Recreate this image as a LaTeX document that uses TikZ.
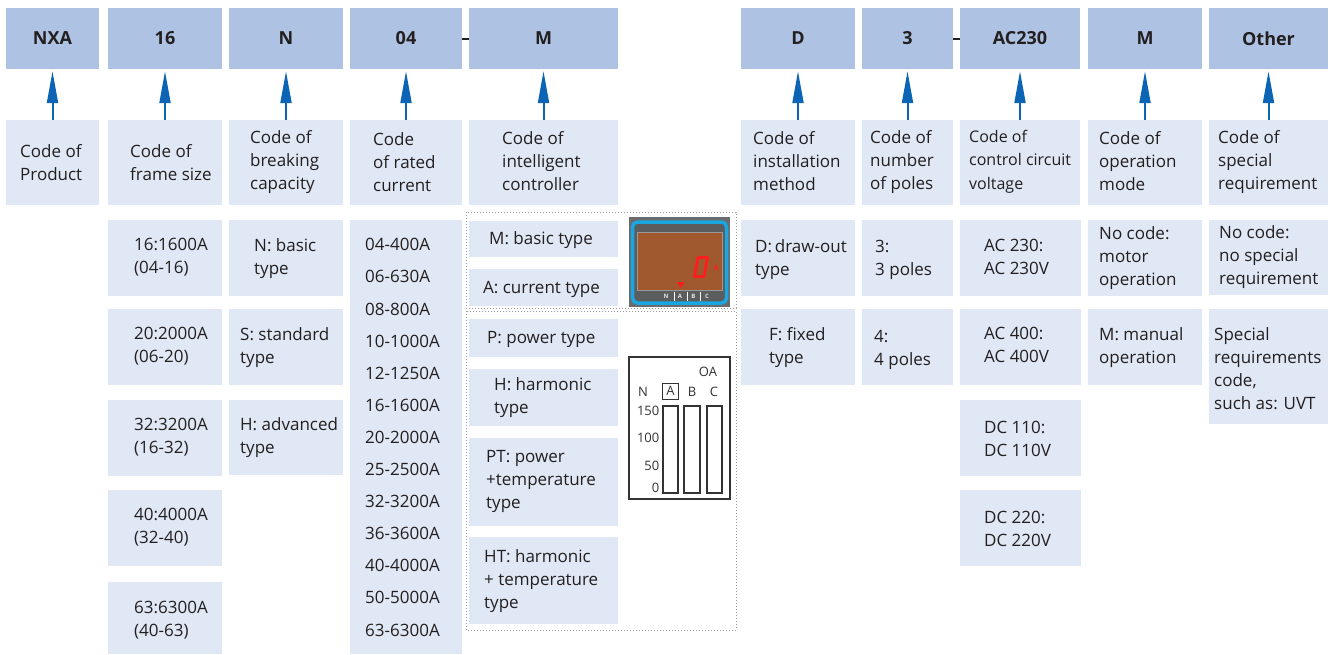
\documentclass[tikz,border=0pt]{standalone}
\usepackage{fontspec}
\setmainfont{Open Sans}
\usetikzlibrary{fit,arrows.meta}
\definecolor{hdr}{HTML}{AEC3E3}
\definecolor{lbl}{HTML}{E0E8F5}
\definecolor{arrc}{HTML}{0B64B4}
\definecolor{txtc}{HTML}{231F20}
\definecolor{dotc}{HTML}{9A9A9A}
\definecolor{frameg}{HTML}{6A6B6D}
\definecolor{panelg}{HTML}{5B5C5E}
\definecolor{lcdblue}{HTML}{1AA6E0}
\definecolor{lcdbrown}{HTML}{A0582F}
\definecolor{lcdred}{HTML}{FF1E1E}
\definecolor{chartc}{HTML}{333333}
\newcommand{\hcell}[6]{\node[hbox, fit={(#2,#3)(#4,#5)}] (#1) {};
  \node[htxt] (#1t) at (#1.center) {#6};}
\newcommand{\lcell}[5]{\node[lbox, fit={(#2,#3)(#4,#5)}] (#1) {};}
% #3 = x, #3 = y of the LAST line's visual centre
\newcommand{\tx}[4]{\node[txt] (#1) at (#2,#3) {#4};}
\begin{document}
\begin{tikzpicture}[x=1pt,y=-1pt,
  hbox/.style={fill=hdr, inner sep=0pt, draw=none},
  htxt/.style={inner sep=0pt, font=\fontsize{18}{22}\selectfont\bfseries, text=txtc},
  lbox/.style={fill=lbl, inner sep=0pt, draw=none},
  txt/.style={inner sep=0pt, anchor=base west, align=left, yshift=-6pt, font=\fontsize{17}{23}\selectfont, text=txtc},
  arr/.style={draw=arrc, line width=2pt, -{Triangle[length=32pt,width=11pt]}, shorten >=2pt},
  dashmark/.style={draw=txtc, line width=2pt},
  dotbox/.style={draw=dotc, line width=0.9pt, dash pattern=on 0.9pt off 2.1pt},
  ctxt/.style={inner sep=0pt, font=\fontsize{13}{13}\selectfont, text=chartc},
  lcdlab/.style={inner sep=0pt, font=\fontsize{6}{6}\selectfont\bfseries, text=white!80!gray},
]
\useasboundingbox (0,0) rectangle (1330,654);

% ---------- header row ----------
\hcell{h1}{6}{8}{99}{69}{NXA}
\hcell{h2}{108}{8}{222}{69}{16}
\hcell{h3}{229}{8}{343}{69}{N}
\hcell{h4}{350}{8}{462}{69}{04}
\hcell{h5}{469}{8}{618}{69}{M}
\hcell{h6}{741}{8}{855}{69}{D}
\hcell{h7}{862}{8}{953}{69}{3}
\hcell{h8}{960}{8}{1080}{69}{AC230}
\hcell{h9}{1088}{8}{1202}{69}{M}
\hcell{h10}{1209}{8}{1328}{69}{Other}
\draw[dashmark] (h4.east) -- (h5.west);
\draw[dashmark] (h7.east) -- (h8.west);

% ---------- description row ----------
\lcell{d1}{6}{120}{99}{205}
\lcell{d2}{108}{120}{222}{205}
\lcell{d3}{229}{120}{343}{205}
\lcell{d4}{350}{120}{462}{205}
\lcell{d5}{469}{120}{618}{205}
\lcell{d6}{741}{120}{855}{205}
\lcell{d7}{862}{120}{953}{205}
\lcell{d8}{960}{120}{1080}{205}
\lcell{d9}{1088}{120}{1202}{205}
\lcell{d10}{1209}{120}{1328}{205}
\tx{t1}{20}{174}{Code of\\Product}
\tx{t2}{130}{174}{Code of\\frame size}
\tx{t3}{250}{183}{Code of\\breaking\\capacity}
\tx{t4}{373}{185}{Code\\of rated\\current}
\tx{t5}{502}{184}{Code of\\intelligent\\controller}
\tx{t6}{753}{184}{Code of\\installation\\method}
\tx{t7}{870}{183}{Code of\\number\\of poles}
\node[txt, font=\fontsize{16}{23.5}\selectfont] (t8) at (969,183) {Code of\\control circuit\\voltage};
\tx{t9}{1099}{184}{Code of\\operation\\mode}
\tx{t10}{1218}{183}{Code of\\special\\requirement}

\foreach \i in {1,...,10} {\draw[arr] (d\i.north) -- (h\i.south);}

% ---------- frame size ----------
\lcell{f1}{108}{220}{222}{296}
\lcell{f2}{108}{309}{222}{385}
\lcell{f3}{108}{400}{222}{476}
\lcell{f4}{108}{490}{222}{566}
\lcell{f5}{108}{582}{222}{654}
\tx{ft1}{134}{267}{16:1600A\\(04-16)}
\tx{ft2}{134}{356}{20:2000A\\(06-20)}
\tx{ft3}{134}{447}{32:3200A\\(16-32)}
\tx{ft4}{134}{537}{40:4000A\\(32-40)}
\tx{ft5}{134}{630}{63:6300A\\(40-63)}

% ---------- breaking capacity ----------
\lcell{b1}{229}{220}{343}{296}
\lcell{b2}{229}{309}{343}{385}
\lcell{b3}{229}{400}{343}{475}
\tx{bt1}{254}{268}{N: basic\\type}
\tx{bt2}{240}{357}{S: standard\\type}
\tx{bt3}{240}{447}{H: advanced\\type}

% ---------- rated current ----------
\lcell{r1}{350}{220}{462}{654}
\node[txt, font=\fontsize{17}{32.1}\selectfont] (rt1) at (365,630) {04-400A\\06-630A\\08-800A\\10-1000A\\12-1250A\\16-1600A\\20-2000A\\25-2500A\\32-3200A\\36-3600A\\40-4000A\\50-5000A\\63-6300A};

% ---------- intelligent controller ----------
\draw[dotbox] (466,212) rectangle (736,308);
\draw[dotbox] (466,311) rectangle (736,630);
\lcell{c1}{469}{221}{618}{257}
\lcell{c2}{469}{269}{618}{306}
\lcell{c3}{469}{319}{618}{357}
\lcell{c4}{469}{369}{618}{426}
\lcell{c5}{469}{438}{618}{526}
\lcell{c6}{469}{537}{618}{624}
\tx{ct1}{489}{238}{M: basic type}
\tx{ct2}{483}{287}{A: current type}
\tx{ct3}{487}{337}{P: power type}
\tx{ct4}{494}{407}{H: harmonic\\type}
\tx{ct5}{486}{502}{PT: power\\+temperature\\type}
\tx{ct6}{484}{602}{HT: harmonic\\+ temperature\\type}

% controller display
\fill[frameg] (629,217) rectangle (730,307);
\draw[lcdblue, line width=3.5pt, fill=panelg, rounded corners=5pt] (632.5,222) rectangle (726.5,303);
\draw[draw=gray!80, line width=0.8pt, fill=lcdbrown] (637,232) rectangle (722,290);
\draw[lcdred, line width=2.8pt, line join=round] (694.5,276.5) -- (698,257.5) -- (707.5,257.5) -- (704,276.5) -- cycle;
\node[inner sep=0pt, text=lcdred, font=\fontsize{7}{7}\selectfont\bfseries] (lcdA) at (716,268) {A};
\fill[lcdred] (677,282) -- (684.5,282) -- (680.75,288.5) -- cycle;
\node[lcdlab] (lN) at (666,296) {N};
\node[lcdlab] (lA) at (680,296) {A};
\node[lcdlab] (lB) at (693.5,296) {B};
\node[lcdlab] (lC) at (707,296) {C};
\draw[white, line width=0.8pt] (674,291.5) -- (674,300.5);
\draw[white, line width=0.8pt] (687,291.5) -- (687,300.5);
\draw[white, line width=0.8pt] (700,291.5) -- (700,300.5);

% chart
\draw[chartc, line width=1.1pt, fill=white] (629,357) rectangle (730,499);
\node[ctxt] (cOA) at (708,372) {OA};
\node[ctxt] (cN) at (643,392) {N};
\node[ctxt, draw=chartc, line width=1pt, minimum width=16pt, minimum height=16pt] (cA) at (670.5,391) {A};
\node[ctxt] (cB) at (692,392) {B};
\node[ctxt] (cC) at (714,392) {C};
\draw[chartc, line width=1.1pt] (663,406) rectangle (678,493);
\draw[chartc, line width=1.1pt] (684,406) rectangle (700,493);
\draw[chartc, line width=1.1pt] (707,406) rectangle (722,493);
\node[ctxt, anchor=east] (c150) at (659.5,411) {150};
\node[ctxt, anchor=east] (c100) at (659.5,438) {100};
\node[ctxt, anchor=east] (c50) at (659.5,466) {50};
\node[ctxt, anchor=east] (c0) at (659.5,488) {0};

% ---------- installation method ----------
\lcell{i1}{741}{220}{855}{296}
\lcell{i2}{741}{309}{855}{385}
\tx{it1}{755}{269}{D:\,draw-out\\type}
\tx{it2}{769}{357}{F: fixed\\type}

% ---------- poles ----------
\lcell{p1}{862}{220}{953}{296}
\lcell{p2}{862}{309}{953}{385}
\tx{pt1}{875}{269}{3:\\3 poles}
\tx{pt2}{874}{359}{4:\\4 poles}

% ---------- control voltage ----------
\lcell{v1}{960}{220}{1081}{296}
\lcell{v2}{960}{309}{1081}{385}
\lcell{v3}{960}{400}{1081}{476}
\lcell{v4}{960}{490}{1081}{566}
\tx{vt1}{984}{268}{AC 230:\\AC 230V}
\tx{vt2}{984}{356}{AC 400:\\AC 400V}
\tx{vt3}{984}{450}{DC 110:\\DC 110V}
\tx{vt4}{984}{540}{DC 220:\\DC 220V}

% ---------- operation mode ----------
\lcell{o1}{1088}{220}{1202}{296}
\lcell{o2}{1088}{309}{1202}{385}
\tx{ot1}{1099}{279}{No code:\\motor\\operation}
\tx{ot2}{1099}{357}{M: manual\\operation}

% ---------- special requirement ----------
\lcell{s1}{1209}{220}{1328}{295}
\lcell{s2}{1209}{309}{1328}{424}
\tx{st1}{1219}{278}{No code:\\no special\\requirement}
\tx{st2}{1214}{403}{Special\\requirements\\code,\\such as: UVT}
\end{tikzpicture}
\end{document}
